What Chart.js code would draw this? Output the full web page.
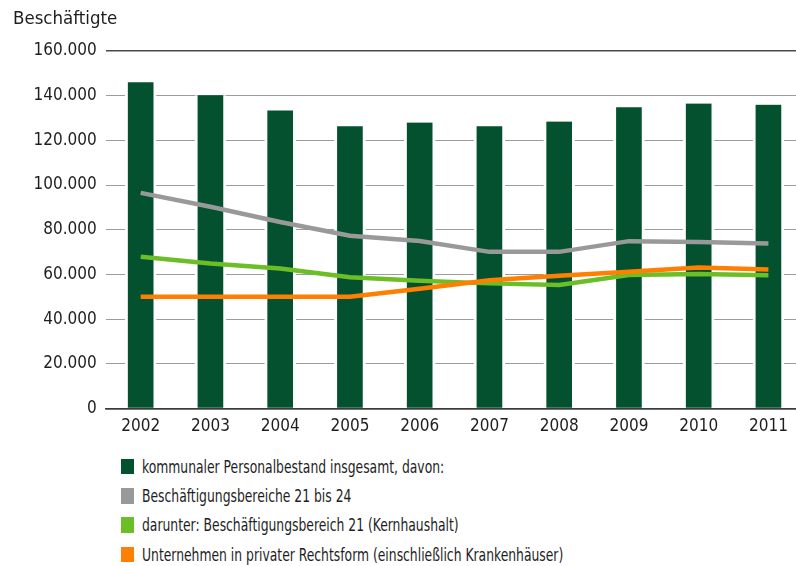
<!DOCTYPE html>
<html lang="de">
<head>
<meta charset="utf-8">
<script src="https://cdn.jsdelivr.net/npm/chart.js@4.4.1/dist/chart.umd.min.js"></script>
<style>
  html, body { margin: 0; padding: 0; background: #fff; overflow: hidden; }
  body { width: 796px; height: 566px; position: relative; font-family: "Liberation Sans Narrow", "DejaVu Sans Condensed", Roboto, sans-serif; color: #1e1e1e; }
  #chart { position: absolute; left: 0; top: 0; }
  #title { position: absolute; left: 13px; top: 7px; font-size: 18.5px; }
  #legend { position: absolute; left: 121px; top: 452px; }
  .item { height: 29.3px; display: flex; align-items: center; font-size: 17.5px; white-space: nowrap; }
  .box { width: 12.5px; height: 15.7px; margin-right: 8.5px; flex: none; }
  .text { display: inline-block; transform: scaleX(0.785); transform-origin: left center; }
</style>
</head>
<body>
<canvas id="chart" width="810" height="440"></canvas>
<div id="title">Beschäftigte</div>
<div id="legend"></div>
<script>
const years = ["2002", "2003", "2004", "2005", "2006", "2007", "2008", "2009", "2010", "2011"];

// Beschäftigte, Werte in Personen
const insgesamt = [146000, 140200, 133400, 126300, 128000, 126300, 128400, 134800, 136500, 136000];
const bereiche21bis24 = [96500, 90300, 83500, 77300, 75000, 70100, 70100, 74900, 74500, 73900];
const kernhaushalt = [67900, 64900, 62700, 58700, 57200, 56000, 55300, 59700, 60200, 59600];
const privatrechtlich = [50000, 50000, 50000, 50000, 53600, 57400, 59400, 61200, 63100, 62200];

const seriesLabels = [
    "kommunaler Personalbestand insgesamt, davon:",
    "Beschäftigungsbereiche 21 bis 24",
    "darunter: Beschäftigungsbereich 21 (Kernhaushalt)",
    "Unternehmen in privater Rechtsform (einschließlich Krankenhäuser)"
];
const seriesColors = ["#03512f", "#999999", "#6cbe27", "#ff7f00"];

const yMax = 160000;
const yStep = 20000;

const fontStack = '"Liberation Sans Narrow", "DejaVu Sans Condensed", Roboto, sans-serif';

function formatDe(v) {
    return String(v).replace(/\B(?=(\d{3})+(?!\d))/g, ".");
}

function lineSet(i, data, order) {
    return {
        type: "line",
        label: seriesLabels[i],
        data: data,
        borderColor: seriesColors[i],
        backgroundColor: seriesColors[i],
        borderWidth: 4.5,
        pointRadius: 0,
        tension: 0,
        order: order
    };
}

const isFrame = (ctx) => ctx.tick && (ctx.tick.value === 0 || ctx.tick.value === yMax);

const chart = new Chart(document.getElementById("chart"), {
    type: "bar",
    data: {
        labels: years,
        datasets: [
            {
                label: seriesLabels[0],
                data: insgesamt,
                backgroundColor: seriesColors[0],
                borderColor: "#ffffff",
                borderWidth: { left: 3, right: 3, top: 0, bottom: 0 },
                borderSkipped: false,
                barThickness: 31,
                order: 10
            },
            lineSet(1, bereiche21bis24, 3),
            lineSet(2, kernhaushalt, 2),
            lineSet(3, privatrechtlich, 1)
        ]
    },
    options: {
        responsive: false,
        maintainAspectRatio: false,
        animation: false,
        devicePixelRatio: 1,
        layout: { padding: { top: 51, right: 6.7, left: 0, bottom: 0 } },
        plugins: {
            legend: { display: false },
            tooltip: { enabled: false }
        },
        scales: {
            x: {
                grid: { display: false, drawTicks: false },
                border: { display: true, color: "#3c3c3c", width: 1.5 },
                ticks: {
                    color: "#1e1e1e",
                    padding: 8,
                    font: { family: fontStack, size: 17 }
                },
                afterFit: (scale) => { scale.height = 31.5; }
            },
            y: {
                min: 0,
                max: yMax,
                grid: {
                    drawTicks: false,
                    color: (ctx) => isFrame(ctx) ? "#4a4a4a" : "#9c9c9c",
                    lineWidth: (ctx) => isFrame(ctx) ? 1.6 : 1.1
                },
                border: { display: false },
                ticks: {
                    stepSize: yStep,
                    color: "#1e1e1e",
                    padding: 9,
                    font: { family: fontStack, size: 17 },
                    callback: (v) => formatDe(v)
                },
                afterFit: (scale) => { scale.width = 105.8; }
            }
        }
    }
});

// Legende als Liste untereinander
const legend = document.getElementById("legend");
seriesLabels.forEach((label, i) => {
    const row = document.createElement("div");
    row.className = "item";
    const box = document.createElement("span");
    box.className = "box";
    box.style.background = seriesColors[i];
    const text = document.createElement("span");
    text.className = "text";
    text.textContent = label;
    row.appendChild(box);
    row.appendChild(text);
    legend.appendChild(row);
});
</script>
</body>
</html>
